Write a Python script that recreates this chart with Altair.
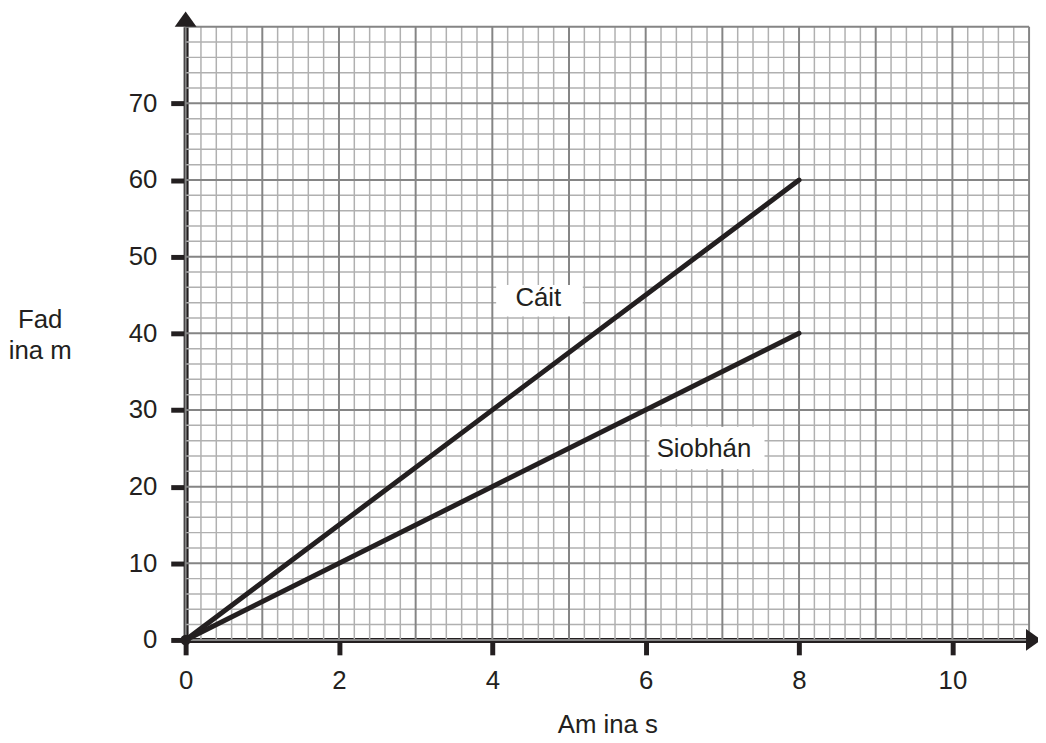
import altair as alt
import pandas as pd

# ---- data ----
cait_x = [0, 8]
cait_y = [0, 60]
siobhan_x = [0, 8]
siobhan_y = [0, 40]

label_text = ["Cáit", "Siobhán"]
label_x = [4.6, 6.76]
label_y = [43.6, 23.9]
box_x1 = [4.05, 6.05]
box_x2 = [5.18, 7.55]
box_y1 = [42.2, 22.3]
box_y2 = [46.3, 27.8]

x_ticks = [0, 2, 4, 6, 8, 10]
y_ticks = [0, 10, 20, 30, 40, 50, 60, 70]
x_max = 11
y_max = 80

minor_x = [round(i * 0.2, 1) for i in range(1, 55) if i % 5 != 0]
major_x = list(range(0, 12))
minor_y = [v for v in range(2, 80, 2) if v % 10 != 0]
major_y = list(range(0, 81, 10))

arrow_x = [0, 11.06]
arrow_y = [81.0, 0]

INK = "#231f20"
FONT = "Liberation Sans"
MINOR = "#b0b0b0"
MAJOR = "#858585"

xs = alt.Scale(domain=[0, x_max], nice=False, zero=True)
ys = alt.Scale(domain=[0, y_max], nice=False, zero=True)

x_axis = alt.Axis(values=x_ticks, title="Am ina s", grid=False, labelFlush=False,
                  titleY=93, titleBaseline="alphabetic", labelPadding=13)
y_axis = alt.Axis(values=y_ticks, title=["Fad", "ina m"], grid=False, labelFlush=False,
                  titleAngle=0, titleAlign="center", titleBaseline="alphabetic",
                  titleX=-147, titleY=303, titleLineHeight=31, labelPadding=14)


def X(field):
    return alt.X(field, type="quantitative", scale=xs, axis=x_axis)


def Y(field):
    return alt.Y(field, type="quantitative", scale=ys, axis=y_axis)


def vgrid(vals, color, w):
    df = pd.DataFrame({"gx": vals, "lo": [0] * len(vals), "hi": [y_max] * len(vals)})
    return alt.Chart(df).mark_rule(color=color, strokeWidth=w).encode(
        x=X("gx"), y=Y("lo"), y2="hi:Q")


def hgrid(vals, color, w):
    df = pd.DataFrame({"gy": vals, "lo": [0] * len(vals), "hi": [x_max] * len(vals)})
    return alt.Chart(df).mark_rule(color=color, strokeWidth=w).encode(
        y=Y("gy"), x=X("lo"), x2="hi:Q")


minor_v = vgrid(minor_x, MINOR, 1.5)
minor_h = hgrid(minor_y, MINOR, 1.5)
major_v = vgrid(major_x, MAJOR, 2)
major_h = hgrid(major_y, MAJOR, 2)

boxes = alt.Chart(pd.DataFrame({"x1": box_x1, "x2": box_x2, "y1": box_y1, "y2": box_y2})).mark_rect(
    color="white").encode(x=X("x1"), x2="x2:Q", y=Y("y1"), y2="y2:Q")

lines_df = pd.DataFrame({
    "t": cait_x + siobhan_x,
    "d": cait_y + siobhan_y,
    "who": ["Cáit"] * len(cait_x) + ["Siobhán"] * len(siobhan_x),
})
lines = alt.Chart(lines_df).mark_line(color=INK, strokeWidth=5, strokeCap="round").encode(
    x=X("t"), y=Y("d"), detail="who:N")

origin = alt.Chart(pd.DataFrame({"t": [cait_x[0]], "d": [cait_y[0]]})).mark_point(
    filled=True, color=INK, size=110, opacity=1).encode(x=X("t"), y=Y("d"))

labels = alt.Chart(pd.DataFrame({"lx": label_x, "ly": label_y, "txt": label_text})).mark_text(
    font=FONT, fontSize=26, color=INK, baseline="alphabetic", align="center").encode(
    x=X("lx"), y=Y("ly"), text="txt:N")

up_arrow = alt.Chart(pd.DataFrame({"ax": [arrow_x[0]], "ay": [arrow_y[0]]})).mark_point(
    shape="M-1,0.7L0,-0.7L1,0.7Z", filled=True, color=INK, size=484, opacity=1).encode(
    x=X("ax"), y=Y("ay"))
right_arrow = alt.Chart(pd.DataFrame({"ax": [arrow_x[1]], "ay": [arrow_y[1]]})).mark_point(
    shape="M-0.7,-1L0.7,0L-0.7,1Z", filled=True, color=INK, size=484, opacity=1).encode(
    x=X("ax"), y=Y("ay"))

chart = alt.layer(
    minor_v, minor_h, major_v, major_h, boxes, lines, origin, labels, up_arrow, right_arrow
).properties(
    width=850, height=618,
    autosize=alt.AutoSizeParams(type="none"),
    padding={"left": 179, "top": 16, "right": 9, "bottom": 101},
).configure_view(stroke=None).configure_axis(
    labelFont=FONT, labelFontSize=26, labelColor=INK,
    titleFont=FONT, titleFontSize=26, titleColor=INK, titleFontWeight="normal",
    domainColor=INK, domainWidth=5, tickColor=INK, tickWidth=5, tickSize=15,
    zindex=1,
)

chart.save("out.html", embed_options={"renderer": "svg", "actions": False})
